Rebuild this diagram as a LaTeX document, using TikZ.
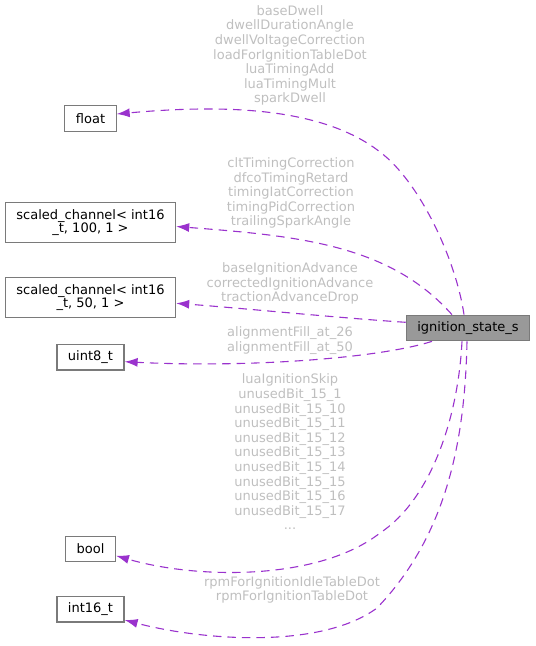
\documentclass[tikz,border=0pt]{standalone}
\usepackage{fontspec}
\setmainfont{DejaVu Sans}
\usetikzlibrary{arrows.meta}

\definecolor{edgepurple}{HTML}{9A32CD}
\definecolor{labelgrey}{HTML}{BFBFBF}
\definecolor{boxgrey}{HTML}{7A7A7A}
\definecolor{rootfill}{HTML}{999999}

\tikzstyle{block} = [draw=boxgrey, fill=white, rectangle, line width=1.2pt,
    inner xsep=11pt, inner ysep=0pt, minimum height=25.5pt, align=center,
    font=\fontsize{13}{13.4}\selectfont]
\tikzstyle{root} = [block, fill=rootfill]
\tikzstyle{member} = [text=labelgrey, align=center, inner sep=0pt,
    font=\fontsize{13}{14.6}\selectfont]
\tikzstyle{uses} = [draw=edgepurple, line width=1.1pt, dash pattern=on 8.5pt off 6pt, ->]

\begin{document}
\begin{tikzpicture}[x=1pt, y=-1pt, >={Latex[length=13pt,width=9pt]}]
    \useasboundingbox (0,0) rectangle (536,646);

    % We start by placing the blocks
    \node [root] (ign) at (468,328) {ignition\_state\_s};
    \node [block] (float) at (90.5,118.5) {float};
    \node [block, below of=float, node distance=104pt, minimum height=40pt] (sc100)
        {scaled\_channel< int16\\\_t, 100, 1 >};
    \node [block, below of=sc100, node distance=74.8pt, minimum height=40pt] (sc50)
        {scaled\_channel< int16\\\_t, 50, 1 >};
    \node [block, below of=sc50, node distance=60pt] (uint8) {uint8\_t};
    \node [block, below of=uint8, node distance=191.7pt] (bool) {bool};
    \node [block, below of=bool, node distance=60.3pt] (int16) {int16\_t};

    % member names
    \node [member] (mfloat) at (290,55.5) {baseDwell\\dwellDurationAngle\\dwellVoltageCorrection\\loadForIgnitionTableDot\\luaTimingAdd\\luaTimingMult\\sparkDwell};
    \node [member] (msc100) at (291,193.2) {cltTimingCorrection\\dfcoTimingRetard\\timingIatCorrection\\timingPidCorrection\\trailingSparkAngle};
    \node [member] (msc50) at (290,283.7) {baseIgnitionAdvance\\correctedIgnitionAdvance\\tractionAdvanceDrop};
    \node [member] (muint8) at (290,340.3) {alignmentFill\_at\_26\\alignmentFill\_at\_50};
    \node [member] (mbool) at (290,452) {luaIgnitionSkip\\unusedBit\_15\_1\\unusedBit\_15\_10\\unusedBit\_15\_11\\unusedBit\_15\_12\\unusedBit\_15\_13\\unusedBit\_15\_14\\unusedBit\_15\_15\\unusedBit\_15\_16\\unusedBit\_15\_17\\...};
    \node [member] (mint16) at (292,589.8) {rpmForIgnitionIdleTableDot\\rpmForIgnitionTableDot};

    \draw [uses] ([xshift=-4pt]ign.north) .. controls (456,260) and (420,182) .. (380,152)
        .. controls (320,105) and (216,105) .. ([yshift=4.5pt]float.east);
    \draw [uses] ([xshift=-16pt]ign.north) .. controls (390,245) and (300,236) .. ([yshift=-4pt]sc100.east);
    \draw [uses] ([yshift=5.7pt]ign.west) .. controls (340,318) and (240,308) .. ([yshift=-6pt]sc50.east);
    \draw [uses] ([xshift=-36pt]ign.south) .. controls (380,358) and (250,368) .. ([yshift=-4.4pt]uint8.east);
    \draw [uses] ([xshift=-6pt]ign.south) .. controls (458,420) and (430,500) .. (380,533)
        .. controls (320,580) and (200,580) .. ([yshift=-6.7pt]bool.east);
    \draw [uses] ([xshift=-1pt]ign.south) .. controls (465,440) and (447,535) .. (377,608)
        .. controls (320,650) and (200,640) .. ([yshift=-10.7pt]int16.east);
\end{tikzpicture}
\end{document}
